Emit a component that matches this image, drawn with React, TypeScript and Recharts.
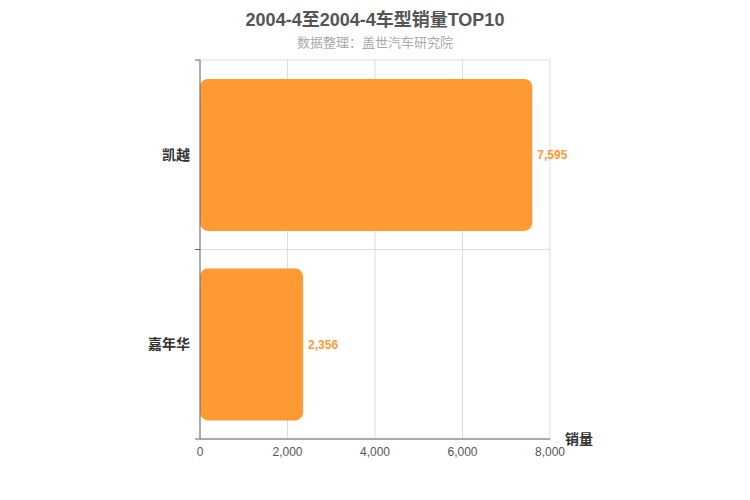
import React from "react";
import {
  BarChart,
  Bar,
  XAxis,
  YAxis,
  CartesianGrid,
  LabelList,
} from "recharts";

const models = ["凯越", "嘉年华"];
const sales = [7595, 2356];
const xTicks = [0, 2000, 4000, 6000, 8000];

const data = models.map((name, i) => ({ name, value: sales[i] }));

const font = "'Liberation Sans', Arial, 'Noto Sans CJK SC', sans-serif";

// category label plus tick marks on the band edges
function CategoryTick(props: any) {
  const { x, y, payload } = props;
  const half = payload.offset || 0;
  return (
    <g>
      <line x1={x} x2={x + 5} y1={y - half} y2={y - half} stroke="#666" />
      <line x1={x} x2={x + 5} y1={y + half} y2={y + half} stroke="#666" />
      <text x={x - 5} y={y} dy={5} textAnchor="end" fill="#333" fontSize={14} fontWeight="bold" fontFamily={font}>
        {payload.value}
      </text>
    </g>
  );
}

// horizontal grid on the category boundaries
function bandEdges({ offset }: any) {
  if (!offset) return [];
  const n = models.length;
  const step = offset.height / n;
  const out: number[] = [];
  for (let i = 0; i <= n; i++) out.push(offset.top + step * i);
  return out;
}

export default function App() {
  return (
    <div style={{ position: "absolute", left: 0, top: 0, width: 750, height: 500, fontFamily: font }}>
      <div style={{ position: "absolute", top: 5, width: 750, textAlign: "center", fontSize: 18, fontWeight: "bold", color: "#555" }}>
        2004-4至2004-4车型销量TOP10
      </div>
      <div style={{ position: "absolute", top: 32, width: 750, textAlign: "center", fontSize: 13, color: "#aaa" }}>
        数据整理：盖世汽车研究院
      </div>
      <div style={{ position: "absolute", left: 565, top: 428, fontSize: 14, fontWeight: "bold", color: "#333" }}>
        销量
      </div>
      <BarChart
        width={750}
        height={500}
        data={data}
        layout="vertical"
        margin={{ top: 60, right: 200, bottom: 0, left: 0 }}
        barCategoryGap="10%"
      >
        <CartesianGrid stroke="#ddd" horizontalCoordinatesGenerator={bandEdges} />
        <XAxis
          type="number"
          domain={[0, 8000]}
          ticks={xTicks}
          height={61}
          tickLine={false}
          axisLine={{ stroke: "#666" }}
          tickFormatter={(v: number) => v.toLocaleString("en-US")}
          tick={{ fill: "#555", fontSize: 12, fontFamily: font }}
          tickMargin={2}
        />
        <YAxis
          type="category"
          dataKey="name"
          width={200}
          tickLine={false}
          tickSize={5}
          axisLine={{ stroke: "#666" }}
          tick={<CategoryTick />}
          tickMargin={0}
        />
        <Bar dataKey="value" fill="#FF9933" radius={8} isAnimationActive={false}>
          <LabelList
            dataKey="value"
            position="right"
            offset={5}
            formatter={(v: number) => v.toLocaleString("en-US")}
            style={{ fill: "#FF9933", fontSize: 12, fontWeight: "bold", fontFamily: font }}
          />
        </Bar>
      </BarChart>
    </div>
  );
}
